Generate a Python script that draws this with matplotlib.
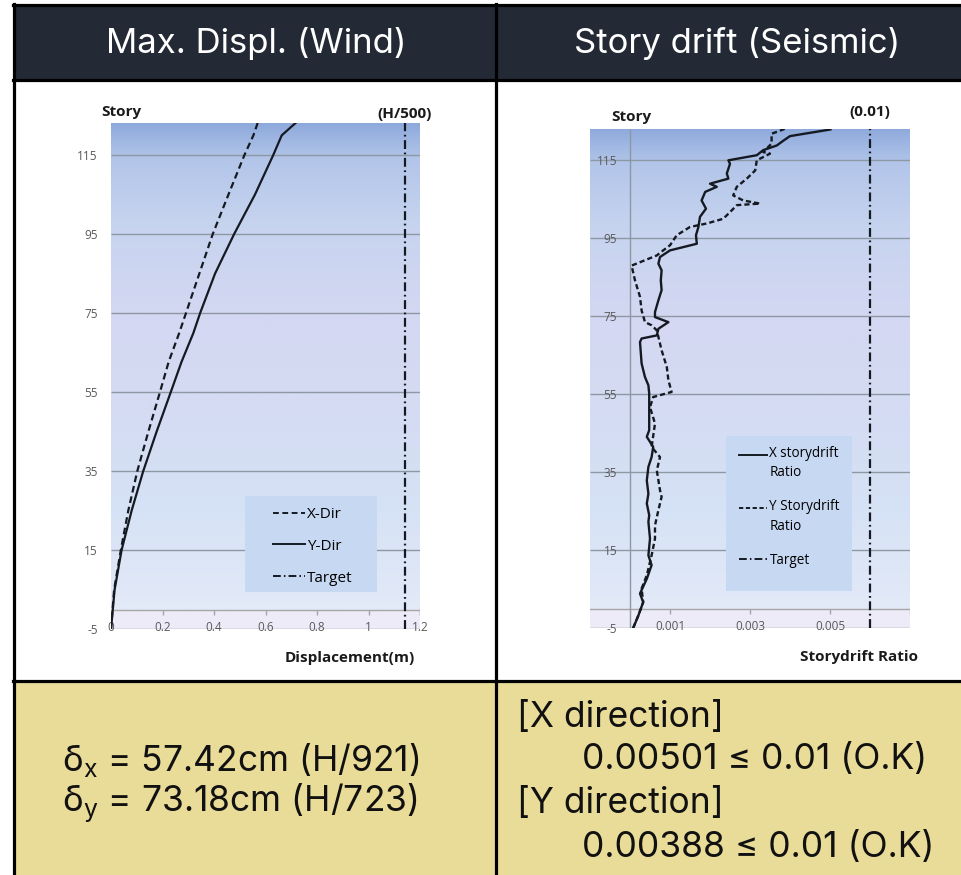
import numpy as np
import matplotlib.pyplot as plt
from matplotlib.colors import LinearSegmentedColormap
from matplotlib.patches import Rectangle
from matplotlib.lines import Line2D

plt.rcParams['font.family'] = ['Open Sans', 'DejaVu Sans']

# ---- wind: max displacement by story (m) ----
wind_story = [-5, 5, 15, 25, 35, 45, 55, 62.7, 70, 75, 85, 95, 105, 115, 120, 124]
wind_x_dir = [0, 0.012, 0.038, 0.067, 0.102, 0.145, 0.19, 0.224, 0.265, 0.291,
              0.343, 0.395, 0.456, 0.518, 0.553, 0.5742]
wind_y_dir = [0, 0.014, 0.041, 0.080, 0.125, 0.177, 0.232, 0.274, 0.320, 0.346,
              0.404, 0.478, 0.559, 0.630, 0.663, 0.7318]
wind_target = 1.14
wind_xticks = [0, 0.2, 0.4, 0.6, 0.8, 1, 1.2]
wind_xlabels = ['0', '0.2', '0.4', '0.6', '0.8', '1', '1.2']

# ---- seismic: story drift ratio ----
drift_x_story = [-4.9, -1.7, 1.7, 3.9, 7.7, 11.2, 13.7, 18, 22.3, 24, 27, 29.5, 32.9,
                 36.4, 38.9, 41.5, 44.1, 45.8, 55.2, 57.3, 59.4, 62.9, 68.4, 69.3,
                 70.1, 71.8, 73.5, 74.8, 76.1, 79.1, 81.7, 84.2, 86.8, 88.5, 90.2,
                 91.9, 93.6, 95.8, 97.9, 100.5, 102.6, 104.7, 106.9, 108.2, 109,
                 110.3, 111.6, 114.1, 115, 116.3, 117.6, 118.8, 120, 121.2, 122.9]
drift_x = [0.00008, 0.00021, 0.00033, 0.00025, 0.00042, 0.00054, 0.00046, 0.0005,
           0.00046, 0.00048, 0.00042, 0.00046, 0.00042, 0.00046, 0.00054, 0.00058,
           0.00042, 0.00048, 0.00048, 0.00046, 0.000375, 0.00029, 0.00025, 0.00029,
           0.00067, 0.00071, 0.00096, 0.000625, 0.000625, 0.00071, 0.00079, 0.00077,
           0.00079, 0.00071, 0.00075, 0.001, 0.00167, 0.00165, 0.00171, 0.00175,
           0.0019, 0.00179, 0.00188, 0.00217, 0.002, 0.00246, 0.00242, 0.0025,
           0.00246, 0.00317, 0.00333, 0.00367, 0.00383, 0.004, 0.00501]
drift_y_story = [-4.9, -1.7, 1.7, 5.2, 8.6, 13.7, 18, 21.4, 25.3, 28.7, 30.4, 35.5,
                 38.9, 41.5, 47.5, 51.7, 54.3, 55.6, 58.6, 62, 66.3, 69.7, 71.4,
                 72.7, 73.5, 76.5, 80, 84.2, 88, 90.6, 91.9, 93.2, 95.8, 97.9, 98.8,
                 100, 101.7, 103.5, 103.9, 104.7, 106, 108.2, 110.3, 112.4, 115,
                 116.7, 117.1, 119.3, 121.8, 123.1]
drift_y = [0.00008, 0.00021, 0.00033, 0.00029, 0.00042, 0.00054, 0.000625, 0.000625,
           0.00071, 0.00079, 0.00075, 0.00067, 0.00075, 0.00054, 0.000625, 0.0005,
           0.00058, 0.00104, 0.00096, 0.00092, 0.00079, 0.00071, 0.00067, 0.00054,
           0.000375, 0.00029, 0.00025, 0.000125, 0.00004, 0.00067, 0.00083, 0.001,
           0.00117, 0.0015, 0.00192, 0.00233, 0.0025, 0.00267, 0.00325, 0.00283,
           0.00258, 0.00267, 0.00292, 0.00313, 0.00317, 0.0035, 0.00333, 0.00354,
           0.00354, 0.00388]
drift_target = 0.006
drift_xticks = [0.001, 0.003, 0.005]
drift_xlabels = ['0.001', '0.003', '0.005']

story_ticks = [-5, 15, 35, 55, 75, 95, 115]
story_labels = ['-5', '15', '35', '55', '75', '95', '115']

W, H = 961, 875
fig = plt.figure(figsize=(W / 100, H / 100), dpi=100)


def fx(px):
    return px / W


def fy(py):
    return 1 - py / H


# table frame
tab = fig.add_axes([0, 0, 1, 1], zorder=0)
tab.set_xlim(0, W)
tab.set_ylim(H, 0)
tab.axis('off')
tab.add_patch(Rectangle((14, 5), W, 75, fc='#232a36', ec='none'))
tab.add_patch(Rectangle((14, 681), W, 200, fc='#e9dc98', ec='none'))
for yy in (5, 80, 681):
    tab.plot([13, W], [yy, yy], color='black', lw=2.3)
tab.plot([14, 14], [4, H], color='black', lw=2.3)
tab.plot([495.5, 495.5], [4, H], color='black', lw=2.3)

hfont = dict(family=['Inter', 'DejaVu Sans'], color='white', fontsize=25,
             ha='center', va='center')
tab.text(256, 43, 'Max. Displ. (Wind)', **hfont)
tab.text(737, 43, 'Story drift (Seismic)', **hfont)

bfont = dict(family=['Inter', 'DejaVu Sans'], color='#111111', fontsize=25.5,
             va='center')
tab.text(62, 760, r'$\mathregular{δ_x}$ = 57.42cm (H/921)', **bfont)
tab.text(62, 803, r'$\mathregular{δ_y}$ = 73.18cm (H/723)', **bfont)
tab.text(517, 717, '[X direction]', **bfont)
tab.text(582, 760, '0.00501 ≤ 0.01 (O.K)', **bfont)
tab.text(517, 803, '[Y direction]', **bfont)
tab.text(582, 847, '0.00388 ≤ 0.01 (O.K)', **bfont)

bg = LinearSegmentedColormap.from_list('bg', [
    (0.00, '#e3eaf8'), (0.20, '#d6e2f5'), (0.40, '#d4dcf3'), (0.60, '#d4d8f2'),
    (0.80, '#c6d3ef'), (0.93, '#b2c5e9'), (1.00, '#8eaadc')])
grid_c = '#8c98a4'
line_c = '#151a22'
tick_c = '#595959'
dash_dot = (0, (4, 1.6, 0.8, 1.6))


def setup(ax, xlim, ylim, xticks, xlabels, ypad):
    ax.set_xlim(*xlim)
    ax.set_ylim(*ylim)
    for s in ax.spines.values():
        s.set_visible(False)
    ax.set_facecolor('none')
    ax.imshow(np.linspace(0, 1, 256).reshape(-1, 1), origin='lower', cmap=bg,
              extent=(xlim[0], xlim[1], 0, ylim[1]), aspect='auto', zorder=0)
    ax.axhspan(ylim[0], 0, color='#ecebf7', zorder=0, lw=0)
    ax.hlines(story_ticks, xlim[0], xlim[1], color=grid_c, lw=1, zorder=1)
    ax.axhline(0, color='#a6a6a6', lw=1, zorder=1)
    ax.vlines(list(xticks) + [xlim[1]], -1.4, 0, color='#a6a6a6', lw=1, zorder=1)
    ax.set_yticks(story_ticks, story_labels)
    ax.set_xticks(xticks, xlabels)
    ax.tick_params(axis='y', length=0, pad=ypad, labelsize=8.5, labelcolor=tick_c)
    ax.tick_params(axis='x', length=0, pad=-6, labelsize=8.5, labelcolor=tick_c)


def lift_handles(leg, which, dy):
    # put the handle beside the first line of a two-line label
    for i in which:
        ln = leg.legend_handles[i]
        ln.set_ydata(np.asarray(ln.get_ydata()) + dy)


# wind displacement
ax1 = fig.add_axes([fx(111), fy(629.3), fx(420) - fx(111), fy(122.7) - fy(629.3)],
                   zorder=1)
setup(ax1, (0, 1.2), (-5, 123.2), wind_xticks, wind_xlabels, 9.5)
ax1.plot(wind_x_dir, wind_story, color=line_c, lw=1.6, ls=(0, (3, 1.8)), zorder=4)
ax1.plot(wind_y_dir, wind_story, color=line_c, lw=1.6, zorder=4)
ax1.vlines(wind_target, -5, 123.2, color=line_c, lw=1.6, ls=dash_dot, zorder=4)
ax1.add_patch(Rectangle((fx(245), fy(592)), fx(132), fy(496) - fy(592),
                        transform=fig.transFigure, fc='#c7d9f2', ec='none', zorder=3))
h1 = [Line2D([], [], color=line_c, lw=1.4, ls=(0, (3, 1.8))),
      Line2D([], [], color=line_c, lw=1.4),
      Line2D([], [], color=line_c, lw=1.4, ls=dash_dot)]
leg1 = ax1.legend(h1, ['X-Dir', 'Y-Dir', 'Target'], loc='upper left',
                  bbox_to_anchor=(fx(273), fy(507)), bbox_transform=fig.transFigure,
                  frameon=False, fontsize=11, handlelength=2.1, handletextpad=0.12,
                  labelspacing=1.1, borderpad=0, borderaxespad=0)
leg1.set_zorder(5)

# seismic drift
ax2 = fig.add_axes([fx(590), fy(628.3), fx(910) - fx(590), fy(128.7) - fy(628.3)],
                   zorder=1)
setup(ax2, (-0.001, 0.007), (-5, 123.1), drift_xticks, drift_xlabels, -19.5)
ax2.vlines(0, -5, 123.1, color=grid_c, lw=1, zorder=1)
ax2.plot(drift_x, drift_x_story, color=line_c, lw=1.7, zorder=4)
ax2.plot(drift_y, drift_y_story, color=line_c, lw=1.7, ls=(0, (2.2, 1.3)), zorder=4)
ax2.vlines(drift_target, -5, 123.1, color=line_c, lw=1.6, ls=dash_dot, zorder=4)
ax2.add_patch(Rectangle((fx(726), fy(591)), fx(126), fy(436) - fy(591),
                        transform=fig.transFigure, fc='#c7d9f2', ec='none', zorder=3))
h2 = [Line2D([], [], color=line_c, lw=1.4),
      Line2D([], [], color=line_c, lw=1.4, ls=(0, (2.2, 1.3))),
      Line2D([], [], color=line_c, lw=1.4, ls=dash_dot)]
leg2 = ax2.legend(h2, ['X storydrift\nRatio', 'Y Storydrift\nRatio', 'Target'],
                  loc='upper left', bbox_to_anchor=(fx(739), fy(446)),
                  bbox_transform=fig.transFigure, frameon=False, fontsize=9.75,
                  handlelength=2.1, handletextpad=0.15, labelspacing=1.4,
                  borderpad=0, borderaxespad=0)
for t in leg2.get_texts():
    t.set_linespacing(1.4)
leg2.set_zorder(5)
lift_handles(leg2, [0, 1], 6.5)

# axis captions
cap = dict(fontsize=11, fontweight='bold', color='#1a1a1a', va='center')
tab.text(101, 112, 'Story', ha='left', **cap)
tab.text(432, 114, '(H/500)', ha='right', **cap)
tab.text(415, 658, 'Displacement(m)', ha='right', **cap)
tab.text(611, 117, 'Story', ha='left', **cap)
tab.text(890, 112, '(0.01)', ha='right', **cap)
tab.text(918, 657, 'Storydrift Ratio', ha='right', **cap)

fig.savefig('out.png', dpi=100)
